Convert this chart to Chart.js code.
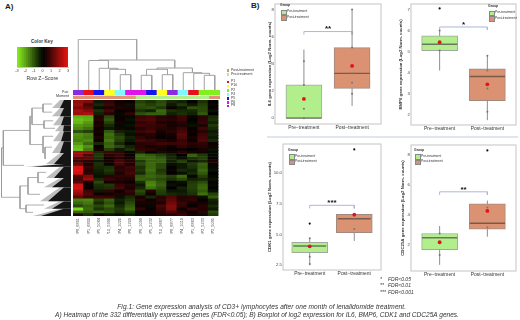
<!DOCTYPE html>
<html>
<head>
<meta charset="utf-8">
<title>Fig 1</title>
<script src="https://cdn.jsdelivr.net/npm/chart.js@4"></script>
<style>
html, body { margin: 0; padding: 0; background: #fff; }
body { position: relative; width: 520px; height: 320px; overflow: hidden; font-family: "Liberation Sans", sans-serif; }
canvas { position: absolute; }
.t { position: absolute; white-space: nowrap; color: #333; line-height: 1; }
.sw { position: absolute; width: 2.5px; height: 2.5px; }
.key { position: absolute; width: 4.5px; height: 3.5px; border: 0.5px solid #888; }
.cap { position: absolute; white-space: nowrap; font-style: italic; font-size: 6.55px; color: #333; line-height: 1; transform: translateX(-50%); }
</style>
</head>
<body>
<div class="t" style="left:5px;top:3px;font-size:8px;font-weight:bold;color:#222">A)</div>
<div class="t" style="left:251px;top:2px;font-size:8px;font-weight:bold;color:#222">B)</div>
<div style="position:absolute;left:267px;top:135.5px;width:251px;height:2px;background:#e0e5f1"></div>

<canvas id="key" width="60" height="27" style="left:13px;top:47px"></canvas>
<canvas id="colDendro" width="147" height="51" style="left:73px;top:39px"></canvas>
<canvas id="annot" width="147" height="9" style="left:73px;top:90px"></canvas>
<canvas id="rowDendro" width="71" height="116" style="left:0;top:100px"></canvas>
<canvas id="heat" width="147" height="134" style="left:73px;top:100px"></canvas>
<canvas id="il6" width="118" height="133" style="left:267px;top:0"></canvas>
<canvas id="bmp6" width="122" height="134" style="left:398px;top:0"></canvas>
<canvas id="cdk1" width="118" height="139" style="left:267px;top:140px"></canvas>
<canvas id="cdc25a" width="120" height="140" style="left:400px;top:140px"></canvas>

<div id="labels"></div>
<div class="cap" style="top:303.7px;left:261.7px;letter-spacing:.07px">Fig.1: Gene expression analysis of CD3+ lymphocytes after one month of lenalidomide treatment.</div>
<div class="cap" style="top:312.4px;left:257px">A) Heatmap of the 332 differentially expressed genes (FDR&lt;0.05); B) Boxplot of log2 expression for IL6, BMP6, CDK1 and CDC25A genes.</div>

<script>
// Heatmap data
const samples = ['P8_6801', 'P1_6800', 'P5_5084', 'P10_5990', 'P4_1020', 'P6_1209', 'P6_1099', 'P5_5232', 'P10_9867', 'P8_8877', 'P4_1019', 'P1_6863', 'P2_5233', 'P2_5095'];
const pairColors = ['#8a2be2', '#e8101a', '#1414f0', '#ffff20', '#80f8ff', '#e014e8', '#e014e8', '#1414f0', '#ffff20', '#8a2be2', '#80f8ff', '#e8101a', '#80f020', '#80f020'];
const momentColors = ['#df9478', '#df9478', '#df9478', '#df9478', '#df9478', '#df9478', '#b2ee8c', '#b2ee8c', '#b2ee8c', '#b2ee8c', '#b2ee8c', '#b2ee8c', '#b2ee8c', '#df9478'];
const zRows = [
    [1.8, 1.6, -.3, .6, .2, .1, -.8, -.6, -.9, -.5, -.4, .1, -.6, 0],
    [2.0, .9, -.5, .8, .3, -.2, -1, -.8, -1, -.3, -.7, -.3, -.8, -.1],
    [1.6, 1.2, -.2, .4, .4, .3, -.9, -1, -.7, .2, -.3, -1, -.9, .1],
    [2.1, 1.7, -.6, .9, .1, .2, -.6, -.4, -1.3, -.6, -.5, -.5, -.9, -.2],
    [2.0, 2.2, -.4, .5, -.1, .6, -1, -1.2, -1.2, -.4, -.6, -.4, -1.1, 0],
    [-2.2, -2.1, .4, -.9, .2, -.1, .7, .9, .5, .4, .8, -.1, .5, -.5],
    [-2.4, -2.2, .5, -1.1, .1, -.2, .9, 1, .6, .5, .7, 0, .6, -.6],
    [-2.3, -1.9, .3, -.8, .3, -.1, .6, .8, .4, .3, .5, -.1, .7, -.4],
    [-1.9, -1.7, .4, -.5, -.1, -.2, .8, .7, .6, .3, .4, -.2, .4, -.7],
    [-1.7, -1.4, .2, -.3, .3, -.1, .5, .7, .5, .4, .7, .1, .8, -.5],
    [-1, -.8, .3, -1.1, -.4, -.3, .7, .9, .3, .5, .9, .2, .5, -.3],
    [-1.8, -1.6, .1, -1.4, -.7, -.2, .4, .5, .2, .3, 1.1, .1, .8, -.4],
    [-1.7, -1.5, .4, -1.3, -.9, -.4, .6, .4, .1, .2, 1, .3, .9, -.3],
    [-1.6, -1.7, .2, -1.5, -.8, -.3, .9, .7, .5, .3, .7, .2, 1, -.5],
    [-1.9, -1.3, -.5, -1.2, -.5, -.1, .5, .6, .8, .7, .8, .5, .6, .2],
    [-2.3, -1.8, .1, -1.3, -.9, -.4, .5, .3, .4, .2, .6, .4, .5, .3],
    [-2.4, -1.5, .3, -.8, -.3, -.6, .6, .5, .3, .1, .2, 0, .3, -.2],
    [2.0, 1.8, -.5, .8, .6, .2, -.4, .1, -.2, .3, .5, .3, .2, -.1],
    [1.9, 1.0, -.7, .5, .7, .1, -1.3, -1.1, -.8, -.4, 0, -1.2, -.7, -.1],
    [1.1, 1.2, -.6, .2, .5, .3, -1.2, -1.3, -1.1, -.5, -.2, -.6, -.8, .1],
    [.8, .5, -.3, .3, .9, .5, -.7, -1.2, -1.2, -.4, -.8, -.3, -.5, .3],
    [1.3, .4, -.6, -.1, .9, .4, -.9, -1.3, -.9, -.2, -.3, -.7, -1.2, .2],
    [2.7, .7, -.5, -.6, .5, .8, -.6, -1.3, -.9, .1, -.3, -.6, -1.1, -.1],
    [2.8, .5, -.4, -.7, .6, .7, -.7, -1.4, -.7, -.1, -.5, -.4, -1.3, -.2],
    [2.6, .6, -.3, -.5, .4, .9, -.5, -1.2, -.8, .1, -.2, -.5, -1.1, 0],
    [1.0, 1.6, -.2, .5, .6, .6, -1.1, -1.3, -1.1, -.8, -1.3, -.1, -.8, -.1],
    [.9, 1.9, -.5, .7, .5, .4, -1.2, -1.1, -.9, -.6, -.9, -.4, -.5, -.2],
    [1.1, .3, -.9, .2, .3, .1, -.6, -1.6, -1.1, -.1, -.2, -.7, -.9, .1],
    [2.6, .2, -.6, -.7, .7, .5, -.3, -1.7, -1.2, -.2, -.1, -.8, -1.2, -.1],
    [2.7, .1, -.5, -.6, .9, .3, -.5, -1.4, -1, 0, -.4, -.8, -1.3, 0],
    [2.2, .8, -.3, .6, .2, .7, -.9, .5, -.8, -.3, -.3, -.7, -1.1, -.2],
    [1.8, 1.0, .2, .3, .4, .5, -.7, .2, -.7, -.5, -.4, -.6, -1.4, -.8],
    [1.2, .7, .8, .7, -.2, -.5, .3, -.5, .5, 1.0, .5, .5, -.2, -1.1],
    [-1.6, -1.7, -.8, -1.2, -.4, -.7, .5, .2, .6, 1.2, .5, .6, .1, -.4],
    [-1.3, -1.5, -.5, -1, -.3, -.9, .3, .3, .4, 1.4, .7, .3, .3, -.3],
    [-.9, -1.2, -.9, -1.3, -.5, -1.1, .2, -.1, .9, 1.7, .6, .1, .5, -.5],
    [-2.7, -1.3, -.6, -.9, -.7, -1.3, .6, .1, .7, 1.6, .2, .7, .4, -.3],
    [-1.3, -1.1, -1.2, -1.0, -.6, -.8, .1, .2, .5, 1.0, .5, .2, .6, -.9],
    [.5, -.6, .3, -.3, -.2, -.4, -.1, .2, .4, .5, .7, .3, -.2, -.7]
];

// Heatmap dendrograms: [height, left, right], a plain number is a leaf
const colTree = [50.7, 0, [30, [29.5, 1, [21.7, 2, [20.7, 3, [15.3, 4, 5]]]], [22, [20.7, [14.7, 6, 7], [15.3, 8, 9]], [17.3, 10, [16.7, 11, [14.7, 12, 13]]]]]];
const rowTree = [1.5, [3.3, [30, [32, [43, 0, 1], [44, 2, 3]], [43, 4, [45, 5, 6]]], 7], [20, [28, [38, 8, 9], 10], [26, 11, 12]]];
const clusterTop = [0, 8, 16.3, 25.3, 31.3, 41.3, 53, 64, 66.7, 78, 87.3, 101.3, 108.7];
const clusterBottom = [8, 16.3, 25.3, 31.3, 41.3, 53, 64, 66.7, 78, 87.3, 101.3, 108.7, 116];
const clusterTip = [52, 52, 53, 55, 53, 52, 46, 24, 46, 44, 40, 44, 33];

// Color key
const keyEdges = [-3, -2.75, -2.5, -2.25, -2, -1.75, -1.5, -1.25, -1, -.75, -.5, -.25, 0, .25, .5, .75, 1, 1.25, 1.5, 1.75, 2, 2.25, 2.5, 2.75, 3];
const keyTicks = [-3, -2, -1, 0, 1, 2, 3];

// Boxplot data, one entry per group
const groups = ['Pre\u2212treatment', 'Post\u2212treatment'];

const il6Box = [[0, 2.45], [2.2, 5.2]];
const il6Median = [0, 3.3];
const il6Whisker = [[0, 5.05], [.9, 8]];
const il6Mean = [1.42, 3.85];
const il6Points = [[0, .7, 2.45, 4.2], [1.8, 2.6, 3.3, 5.2, 8]];
const il6Outliers = [[], []];

const bmp6Box = [[5.05, 5.75], [2.68, 4.18]];
const bmp6Median = [5.35, 3.82];
const bmp6Whisker = [[4.1, 6], [1.75, 4.8]];
const bmp6Mean = [5.45, 3.45];
const bmp6Points = [[5.05, 5.45, 6], [2.15, 3.25, 4.1, 4.8]];
const bmp6Outliers = [[7.05], []];

const cdk1Box = [[3.52, 4.37], [5.16, 6.65]];
const cdk1Median = [4.07, 6.29];
const cdk1Whisker = [[2.5, 4.7], [4.48, 6.65]];
const cdk1Mean = [4.04, 6.62];
const cdk1Points = [[2.6, 3.2, 4.7], [5.45, 6.3]];
const cdk1Outliers = [[5.9], [11.95]];

const cdc25aBox = [[1.71, 2.78], [3.07, 4.75]];
const cdc25aMedian = [2.5, 3.46];
const cdc25aWhisker = [[.7, 3.28], [2.57, 4.97]];
const cdc25aMean = [2.2, 4.28];
const cdc25aPoints = [[1.35, 2.78], [3.2, 4.5]];
const cdc25aOutliers = [[], [8.3]];

Chart.defaults.font.family = '"Liberation Sans", sans-serif';
Chart.defaults.animation = false;
Chart.defaults.responsive = false;
Chart.defaults.plugins.legend.display = false;
Chart.defaults.plugins.tooltip.enabled = false;

// z score to the green-black-red ramp of the key
function zColor(z) {
    const f = Math.min(Math.abs(z) / 3, 1);
    if (z < 0) return `rgb(${Math.round(135 * f)},${Math.round(240 * f)},${Math.round(30 * f)})`;
    return `rgb(${Math.round(235 * f)},${Math.round(20 * f)},${Math.round(20 * f)})`;
}

// Walk a dendrogram, each merge becomes one stroke of [height, position] points
function walkTree(node, leafPos, leafHeight, strokes) {
    if (typeof node === 'number') return { pos: leafPos(node), h: leafHeight(node) };
    const a = walkTree(node[1], leafPos, leafHeight, strokes);
    const b = walkTree(node[2], leafPos, leafHeight, strokes);
    const h = node[0];
    strokes.push([[a.h, a.pos], [h, a.pos], [h, b.pos], [b.h, b.pos]]);
    return { pos: (a.pos + b.pos) / 2, h };
}

// Heatmap: one stacked bar dataset per gene band
function drawHeatmap() {
    new Chart(document.getElementById('heat'), {
        type: 'bar',
        data: {
            labels: samples,
            datasets: zRows.map(row => ({
                data: row.map(() => 1),
                backgroundColor: row.map(zColor),
                categoryPercentage: 1,
                barPercentage: 1,
                borderWidth: 0
            }))
        },
        options: {
            layout: { padding: 0 },
            scales: {
                x: {
                    stacked: true,
                    grid: { display: false, tickLength: 0 },
                    border: { display: false },
                    afterFit: s => { s.height = 18; },
                    ticks: { autoSkip: false, minRotation: 90, maxRotation: 90, padding: 2, color: '#555', font: { size: 3.9 } }
                },
                y: { stacked: true, display: false, reverse: true, min: 0, max: zRows.length }
            }
        }
    });

    new Chart(document.getElementById('annot'), {
        type: 'bar',
        data: {
            labels: samples,
            datasets: [
                { data: samples.map(() => 4.7), backgroundColor: pairColors, categoryPercentage: 1, barPercentage: 1 },
                { data: samples.map(() => .6), backgroundColor: '#fff', categoryPercentage: 1, barPercentage: 1 },
                { data: samples.map(() => 3.7), backgroundColor: momentColors, categoryPercentage: 1, barPercentage: 1 }
            ]
        },
        options: {
            scales: {
                x: { stacked: true, display: false },
                y: { stacked: true, display: false, reverse: true, min: 0, max: 9 }
            }
        }
    });
}

function drawDendrograms() {
    const colStrokes = [];
    walkTree(colTree, i => i, () => 0, colStrokes);
    new Chart(document.getElementById('colDendro'), {
        type: 'scatter',
        data: {
            datasets: colStrokes.map(s => ({
                data: s.map(([h, pos]) => ({ x: pos, y: h })),
                showLine: true, pointRadius: 0, borderColor: '#a2a2a2', borderWidth: 1
            }))
        },
        options: {
            scales: {
                x: { display: false, min: -.5, max: 13.5 },
                y: { display: false, min: 0, max: 51 }
            }
        }
    });

    const rowStrokes = [];
    walkTree(rowTree, i => (clusterTop[i] + clusterBottom[i]) / 2, i => clusterTip[i], rowStrokes);
    const fans = clusterTop.flatMap((top, i) => {
        const bottom = clusterBottom[i], tip = clusterTip[i];
        const polygon = (x0, x1, color) => ({
            data: [{ x: x0, y: bottom }, { x: x1, y: top }, { x: 71, y: top }, { x: 71, y: bottom }, { x: x0, y: bottom }],
            showLine: true, fill: 'shape', backgroundColor: color, borderWidth: 0, pointRadius: 0
        });
        return [polygon(tip + 8, 64, '#151515'), polygon(tip, 60, '#bdbdbd')];
    });
    new Chart(document.getElementById('rowDendro'), {
        type: 'scatter',
        data: {
            datasets: rowStrokes.map(s => ({
                data: s.map(([h, pos]) => ({ x: h, y: pos })),
                showLine: true, pointRadius: 0, borderColor: '#9a9a9a', borderWidth: .8
            })).concat(fans)
        },
        options: {
            scales: {
                x: { display: false, min: 0, max: 71 },
                y: { display: false, reverse: true, min: 0, max: 116 }
            }
        }
    });
}

function drawKey() {
    new Chart(document.getElementById('key'), {
        type: 'bar',
        data: {
            labels: ['key'],
            datasets: keyEdges.slice(0, -1).map((lo, i) => ({
                data: [[lo, keyEdges[i + 1]]],
                backgroundColor: zColor((lo + keyEdges[i + 1]) / 2),
                grouped: false,
                categoryPercentage: 1,
                barPercentage: 1
            }))
        },
        options: {
            indexAxis: 'y',
            layout: { padding: { left: 4, right: 5, top: 0, bottom: 0 } },
            scales: {
                y: { display: false },
                x: {
                    min: -3, max: 3,
                    afterBuildTicks: s => { s.ticks = keyTicks.map(v => ({ value: v })); },
                    afterFit: s => { s.height = 7; },
                    grid: { display: false, tickLength: 2 },
                    border: { color: '#888', width: .5 },
                    ticks: { color: '#444', padding: 0, maxRotation: 0, autoSkip: false, font: { size: 3.8 } }
                }
            }
        }
    });
}

// One boxplot panel
function drawBox(id, d, yMin, yMax, yTicks, tickFmt, title, bracket, stars, leftWidth, rightPad, topPad) {
    const halfBox = .37;
    const panelExtras = {
        id: 'panelExtras',
        afterDatasetsDraw(chart) {
            const { ctx, chartArea: a, scales } = chart;
            ctx.save();
            ctx.strokeStyle = '#c4c4c4';
            ctx.lineWidth = 1;
            ctx.strokeRect(a.left, a.top, a.right - a.left, a.bottom - a.top);
            ctx.fillStyle = '#111';
            ctx.font = 'bold 8px "Liberation Sans"';
            ctx.textAlign = 'center';
            ctx.textBaseline = 'middle';
            ctx.fillText(stars, scales.x.getPixelForValue(1.5), scales.y.getPixelForValue(bracket) - 2.5);
            ctx.restore();
        }
    };
    const seg = (pts, color, width) => ({
        type: 'scatter', data: pts, showLine: true, pointRadius: 0, borderColor: color, borderWidth: width
    });
    const dots = (pts, color, radius) => ({
        type: 'scatter', data: pts, pointRadius: radius, backgroundColor: color, borderWidth: 0
    });
    const toPts = arr => arr.flatMap((vals, g) => vals.map(v => ({ x: g + 1, y: v })));
    const tail = (yMax - yMin) * .025;

    new Chart(document.getElementById(id), {
        type: 'bar',
        data: {
            datasets: [
                Object.assign(dots(d.mean.map((v, g) => ({ x: g + 1, y: v })), '#e4121c', 1.9), { order: 0 }),
                Object.assign(dots(toPts(d.outliers), '#111', 1.1), { order: 1 }),
                Object.assign(dots(toPts(d.points), '#777', 1), { order: 2 }),
                Object.assign(seg([{ x: 1 - halfBox, y: d.median[0] }, { x: 1 + halfBox, y: d.median[0] }], '#6b7560', 1.4), { order: 3 }),
                Object.assign(seg([{ x: 2 - halfBox, y: d.median[1] }, { x: 2 + halfBox, y: d.median[1] }], '#7a5a48', 1.4), { order: 3 }),
                {
                    type: 'bar', order: 4,
                    data: d.box.map((b, g) => ({ x: g + 1, y: b })),
                    backgroundColor: ['#b2ee8c', '#db9273'],
                    borderColor: ['#a0a8a0', '#a08a80'],
                    borderWidth: 1,
                    borderSkipped: false,
                    barThickness: 36
                },
                Object.assign(seg([{ x: 1, y: d.whisker[0][0] }, { x: 1, y: d.whisker[0][1] }], '#8e8e8e', 1), { order: 5 }),
                Object.assign(seg([{ x: 2, y: d.whisker[1][0] }, { x: 2, y: d.whisker[1][1] }], '#8e8e8e', 1), { order: 5 }),
                Object.assign(seg([
                    { x: 1, y: bracket - tail }, { x: 1, y: bracket },
                    { x: 2, y: bracket }, { x: 2, y: bracket - tail }
                ], '#aab8dc', 1), { order: 5 })
            ]
        },
        options: {
            layout: { padding: { top: topPad, right: rightPad } },
            scales: {
                x: {
                    type: 'linear', min: .4, max: 2.6, offset: false,
                    afterBuildTicks: s => { s.ticks = [{ value: 1 }, { value: 2 }]; },
                    afterFit: s => { s.height = 9; },
                    grid: { display: false, offset: false, tickLength: 0 },
                    border: { display: false },
                    ticks: {
                        autoSkip: false,
                        callback: v => groups[v - 1],
                        color: '#333', padding: 1, maxRotation: 0, font: { size: 4.9 }
                    }
                },
                y: {
                    min: yMin, max: yMax,
                    afterBuildTicks: s => { s.ticks = yTicks.map(v => ({ value: v })); },
                    afterFit: s => { s.width = leftWidth; },
                    grid: { display: false, tickLength: 0 },
                    border: { display: false },
                    title: { display: true, text: title, color: '#333', padding: 0, font: { size: 4.3, weight: 'bold' } },
                    ticks: { callback: tickFmt, color: '#444', padding: 1, font: { size: 4.3 } }
                }
            }
        },
        plugins: [panelExtras]
    });
}

// Text labels around the charts
function addText(left, top, text, size, extra) {
    const el = document.createElement('div');
    el.className = 't';
    el.style.cssText = `left:${left}px;top:${top}px;font-size:${size}px;${extra || ''}`;
    el.textContent = text;
    document.getElementById('labels').appendChild(el);
}

function addLegends() {
    addText(31, 40, 'Color Key', 4.6, 'font-weight:bold');
    addText(26.5, 76, 'Row Z\u2212Score', 5.2);
    addText(62, 90.5, 'Pair', 3.6);
    addText(56, 94.5, 'Moment', 3.6);

    const heatKeys = [
        ['#df9478', 'Post-treatment', 69], ['#b2ee8c', 'Pre-treatment', 73],
        ['#e8101a', 'P1', 80.5], ['#ffff20', 'P10', 84.5], ['#80f020', 'P2', 89],
        ['#80f8ff', 'P4', 93], ['#1414f0', 'P5', 97], ['#e014e8', 'P6', 101], ['#8a2be2', 'P8', 104.5]
    ];
    heatKeys.forEach(([color, text, y]) => {
        const sw = document.createElement('div');
        sw.className = 'sw';
        sw.style.cssText = `left:226.5px;top:${y}px;background:${color}`;
        document.getElementById('labels').appendChild(sw);
        addText(231, y - .4, text, 3.5);
    });

    // Group legends of the boxplots
    [[280, 4], [488, 5], [288, 148.5], [414, 148.5]].forEach(([x, y]) => {
        addText(x, y, 'Group', 3.4, 'font-weight:bold');
        ['Pre-treatment', 'Post-treatment'].forEach((text, i) => {
            const k = document.createElement('div');
            k.className = 'key';
            k.style.cssText = `left:${x + .5}px;top:${y + 5.5 + i * 5.5}px;background:${i ? '#db9273' : '#b2ee8c'}`;
            document.getElementById('labels').appendChild(k);
            addText(x + 7, y + 6 + i * 5.5, text, 3.3);
        });
    });

    [['*', 'FDR<0.05', 276.5], ['**', 'FDR<0.01', 283], ['***', 'FDR<0.001', 289.5]].forEach(([s, text, y]) => {
        addText(380, y, s, 5, 'font-style:italic');
        addText(388, y, text, 5, 'font-style:italic');
    });
}

drawHeatmap();
drawDendrograms();
drawKey();
drawBox('il6', { box: il6Box, median: il6Median, whisker: il6Whisker, mean: il6Mean, points: il6Points, outliers: il6Outliers },
    -.43, 8.41, [0, 2, 4, 6, 8], v => v, 'IL6 gene expression (Log2 Norm. counts)', 6.38, '**', 8, 4, 1);
drawBox('bmp6', { box: bmp6Box, median: bmp6Median, whisker: bmp6Whisker, mean: bmp6Mean, points: bmp6Points, outliers: bmp6Outliers },
    1.52, 7.26, [2, 3, 4, 5, 6, 7], v => v, 'BMP6 gene expression (Log2 Norm. counts)', 6.17, '*', 13, 2, 1);
drawBox('cdk1', { box: cdk1Box, median: cdk1Median, whisker: cdk1Whisker, mean: cdk1Mean, points: cdk1Points, outliers: cdk1Outliers },
    2.11, 12.39, [2.5, 5, 7.5, 10], v => v.toFixed(1), 'CDK1 gene expression (Log2 Norm. counts)', 7.39, '***', 16, 2, 4);
drawBox('cdc25a', { box: cdc25aBox, median: cdc25aMedian, whisker: cdc25aWhisker, mean: cdc25aMean, points: cdc25aPoints, outliers: cdc25aOutliers },
    .29, 8.66, [2, 4, 6, 8], v => v, 'CDC25A gene expression (Log2 Norm. counts)', 5.55, '**', 11, 2, 5);
addLegends();
</script>
</body>
</html>
